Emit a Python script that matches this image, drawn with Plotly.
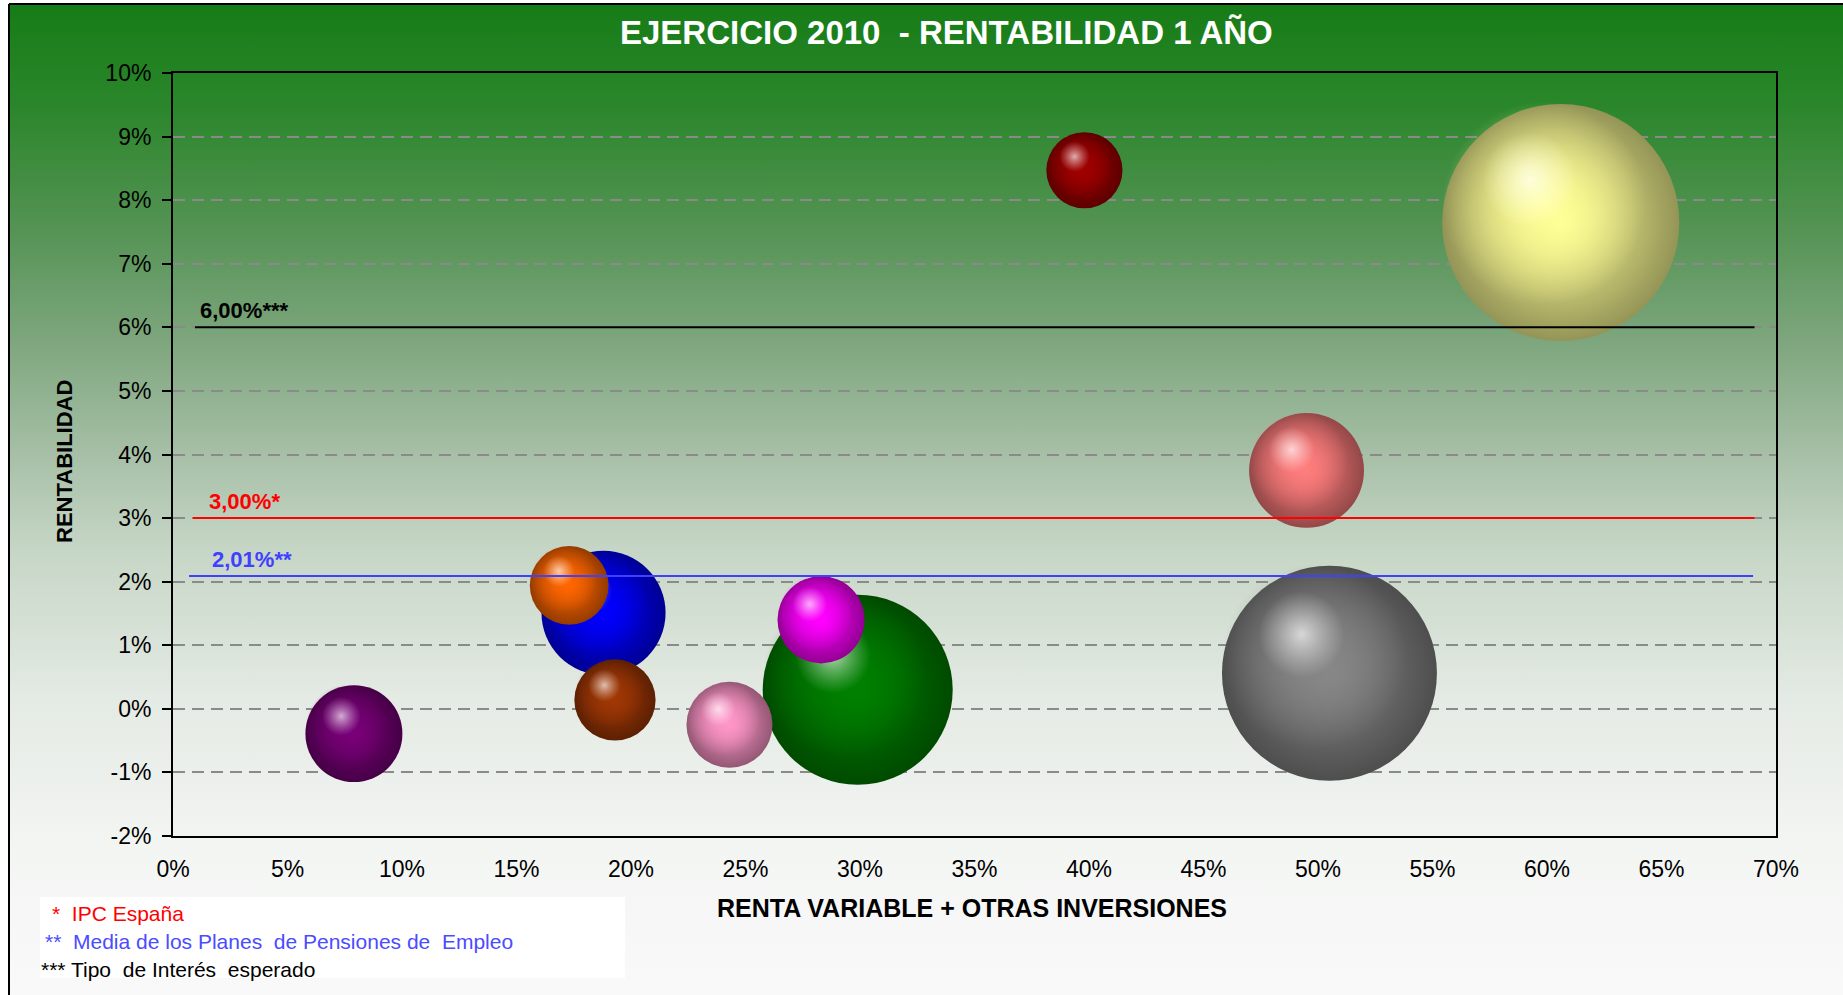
import base64
import math
import plotly.graph_objects as go

# ---------------- data ----------------
x_ticks = [0, 5, 10, 15, 20, 25, 30, 35, 40, 45, 50, 55, 60, 65, 70]
x_tick_labels = [f"{v}%" for v in x_ticks]
y_ticks = [-2, -1, 0, 1, 2, 3, 4, 5, 6, 7, 8, 9, 10]
y_tick_labels = [f"{v}%" for v in y_ticks]

# bubbles: renta variable + otras inversiones (%), rentabilidad (%), bubble value
bubble_x = [7.9, 18.8, 17.3, 19.3, 24.3, 28.3, 29.9, 39.8, 49.5, 50.5, 60.6]
bubble_y = [-0.39, 1.51, 1.94, 0.14, -0.25, 1.40, 0.30, 8.47, 3.75, 0.56, 7.65]
bubble_value = [94, 154, 62, 66, 74, 76, 361, 58, 132, 462, 562]
bubble_color = [
    (120, 0, 120),   # purple
    (0, 0, 255),     # blue
    (255, 102, 0),   # orange
    (160, 55, 5),    # brown
    (255, 150, 200), # pink
    (255, 0, 255),   # magenta
    (0, 128, 0),     # green
    (160, 0, 0),     # dark red
    (255, 125, 125), # salmon
    (135, 135, 135), # gray
    (255, 255, 150), # light yellow
]

ref_y = [6.00, 3.00, 2.09]
ref_x_start = [0.96, 0.87, 0.70]
ref_x_end = [69.06, 69.06, 69.0]
ref_labels = ["6,00%***", "3,00%*", "2,01%**"]
ref_label_x = [1.08, 1.47, 1.62]
ref_colors = ["#000000", "#FF0000", "#4040FF"]

footnotes = ["*\u00a0\u00a0IPC España",
             "**\u00a0\u00a0Media de los Planes\u00a0 de Pensiones de\u00a0 Empleo",
             "*** Tipo\u00a0 de Interés\u00a0 esperado"]
footnote_colors = ["#FF0000", "#4B4BFF", "#000000"]

# ---------------- geometry ----------------
W, H = 1843, 995
L, R, T, B = 173, 67, 73, 159
PW = W - L - R
PH = H - T - B
x_min, x_max = 0, 70
y_min, y_max = -2, 10
FONT = "Liberation Sans, Arial, sans-serif"


def px_x(p):
    return (p - L) / PW


def px_y(p):
    return (H - B - p) / PH


def rgb(c, a=None):
    if a is None:
        return f"rgb({c[0]},{c[1]},{c[2]})"
    return f"rgba({c[0]},{c[1]},{c[2]},{a})"


def mix(c, t, target):
    return tuple(int(round(c[i] + (target[i] - c[i]) * t)) for i in range(3))


# ---------------- background gradient ----------------
stops = [
    (0.00, "rgb(22,124,22)"),
    (0.10, "rgb(42,134,42)"),
    (0.22, "rgb(82,146,82)"),
    (0.33, "rgb(122,164,122)"),
    (0.45, "rgb(165,190,165)"),
    (0.55, "rgb(198,214,198)"),
    (0.70, "rgb(228,234,228)"),
    (0.85, "rgb(243,245,243)"),
    (1.00, "rgb(249,249,249)"),
]
stop_xml = "".join(f"<stop offset='{o}' stop-color='{c}'/>" for o, c in stops)
svg = ("<svg xmlns='http://www.w3.org/2000/svg' width='100' height='100' "
       "preserveAspectRatio='none'><defs><linearGradient id='g' x1='0' y1='0' x2='0' y2='1'>"
       + stop_xml + "</linearGradient></defs><rect width='100' height='100' fill='url(#g)'/></svg>")
bg_src = "data:image/svg+xml;base64," + base64.b64encode(svg.encode()).decode()

fig = go.Figure()

# ---------------- bubbles ----------------
sizeref = 0.01
xpp = (x_max - x_min) / PW
ypp = (y_max - y_min) / PH
order = sorted(range(len(bubble_x)), key=lambda i: -bubble_value[i])
for i in order:
    c = bubble_color[i]
    d = math.sqrt(bubble_value[i] / sizeref)
    dark = mix(c, 0.42, (0, 0, 0))
    light = mix(c, 0.6, (255, 255, 255))
    x0, y0 = bubble_x[i], bubble_y[i]
    fig.add_trace(go.Scatter(
        x=[x0], y=[y0], mode="markers", hoverinfo="x+y",
        marker=dict(size=d, color=rgb(dark), line=dict(width=0),
                    gradient=dict(type="radial", color=rgb(c)))))
    fig.add_trace(go.Scatter(
        x=[x0 - 0.07 * d * xpp], y=[y0 + 0.08 * d * ypp], mode="markers", hoverinfo="skip",
        marker=dict(size=0.86 * d, color=rgb(c, 0), line=dict(width=0),
                    gradient=dict(type="radial", color=rgb(c, 1)))))
    fig.add_trace(go.Scatter(
        x=[x0 - 0.13 * d * xpp], y=[y0 + 0.18 * d * ypp], mode="markers", hoverinfo="skip",
        marker=dict(size=0.4 * d, color=rgb(light, 0), line=dict(width=0),
                    gradient=dict(type="radial", color=rgb(mix(light, 0.5, (255, 255, 255)), 0.85)))))

# ---------------- reference lines ----------------
for yv, xs, xe, col in zip(ref_y, ref_x_start, ref_x_end, ref_colors):
    fig.add_trace(go.Scatter(x=[xs, xe], y=[yv, yv], mode="lines", hoverinfo="skip",
                             line=dict(color=col, width=2)))

annotations = []
for lab, lx, yv, col in zip(ref_labels, ref_label_x, ref_y, ref_colors):
    annotations.append(dict(x=lx, y=yv, xref="x", yref="y", text=f"<b>{lab}</b>",
                            showarrow=False, xanchor="left", yanchor="bottom", yshift=2,
                            font=dict(family=FONT, size=22, color=col)))

# title & axis titles
annotations.append(dict(x=px_x(946), y=px_y(33), xref="paper", yref="paper",
                        text="<b>EJERCICIO 2010\u00a0 - RENTABILIDAD 1 AÑO</b>", showarrow=False,
                        xanchor="center", yanchor="middle",
                        font=dict(family=FONT, size=33, color="white")))
annotations.append(dict(x=px_x(65), y=px_y(462), xref="paper", yref="paper",
                        text="<b>RENTABILIDAD</b>", showarrow=False, textangle=-90,
                        xanchor="center", yanchor="middle",
                        font=dict(family=FONT, size=22, color="black")))
annotations.append(dict(x=px_x(972), y=px_y(908), xref="paper", yref="paper",
                        text="<b>RENTA VARIABLE + OTRAS INVERSIONES</b>", showarrow=False,
                        xanchor="center", yanchor="middle",
                        font=dict(family=FONT, size=25, color="black")))
for txt, col, fx, fy in zip(footnotes, footnote_colors, [50, 43, 39], [913, 941, 969]):
    annotations.append(dict(x=px_x(fx), y=px_y(fy), xref="paper", yref="paper",
                            text=txt, showarrow=False, xanchor="left", yanchor="middle",
                            font=dict(family=FONT, size=21, color=col)))

shapes = [
    dict(type="rect", xref="paper", yref="paper", x0=px_x(40), x1=px_x(625),
         y0=px_y(978), y1=px_y(897), fillcolor="white", line=dict(width=0), layer="below"),
    dict(type="line", xref="paper", yref="paper", x0=px_x(9), x1=px_x(W),
         y0=px_y(4), y1=px_y(4), line=dict(color="black", width=2)),
    dict(type="line", xref="paper", yref="paper", x0=px_x(9), x1=px_x(9),
         y0=px_y(4), y1=px_y(H), line=dict(color="black", width=2)),
]

fig.update_layout(
    width=W, height=H, autosize=False,
    margin=dict(l=L, r=R, t=T, b=B, pad=0),
    paper_bgcolor="white", plot_bgcolor="rgba(0,0,0,0)",
    showlegend=False,
    font=dict(family=FONT, color="black"),
    images=[dict(source=bg_src, xref="paper", yref="paper",
                 x=px_x(9), y=px_y(4), sizex=(W - 9) / PW, sizey=(H - 4) / PH,
                 xanchor="left", yanchor="top", sizing="stretch", layer="below")],
    annotations=annotations,
    shapes=shapes,
    xaxis=dict(range=[x_min, x_max], tickvals=x_ticks, ticktext=x_tick_labels,
               showgrid=False, zeroline=False, showline=True, linecolor="black",
               linewidth=2, mirror=True, ticks="", ticklabelstandoff=11,
               tickfont=dict(family=FONT, size=23, color="black")),
    yaxis=dict(range=[y_min, y_max], tickvals=y_ticks, ticktext=y_tick_labels,
               showgrid=True, gridcolor="#8a8a8a", gridwidth=1.5, griddash="12px,7px",
               zeroline=False, showline=True, linecolor="black", linewidth=2, mirror=True,
               ticks="outside", ticklen=9, tickwidth=1.5, tickcolor="black",
               ticklabelstandoff=6,
               tickfont=dict(family=FONT, size=23, color="black")),
)

fig.write_html("out.html", config={"displayModeBar": False},
               post_script="document.body.style.margin='0px';document.body.style.overflow='hidden';")
